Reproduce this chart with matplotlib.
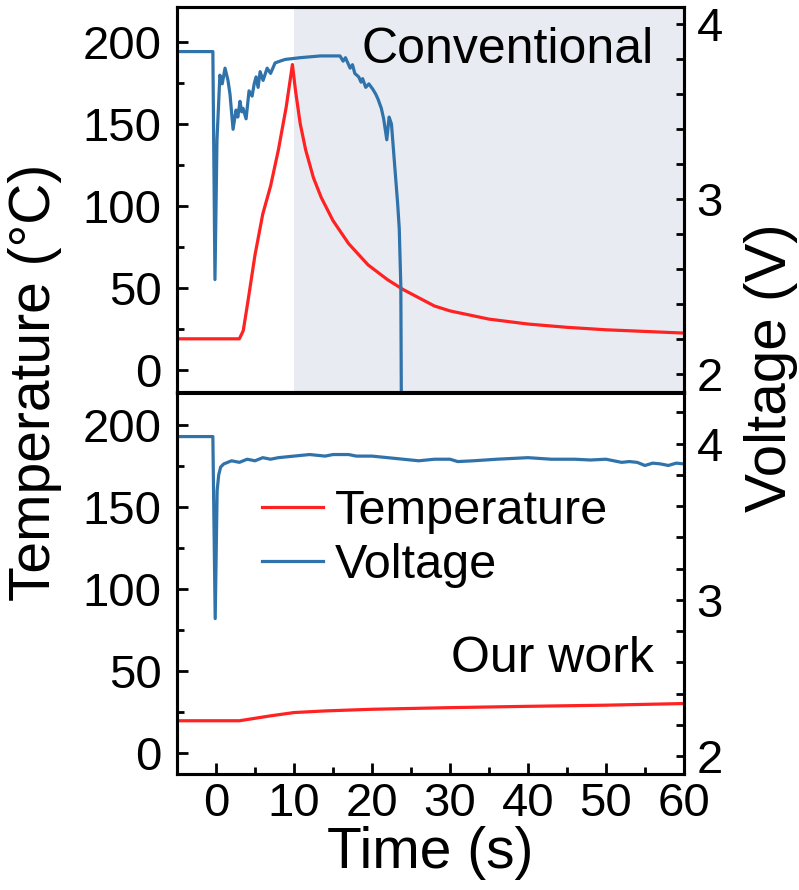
import matplotlib.pyplot as plt
from matplotlib.ticker import MultipleLocator

plt.rcParams['font.family'] = ['Liberation Sans', 'DejaVu Sans']

# ---- data ----
# top panel: conventional cell
conv_t_temp = [-5, 3.0, 3.5, 4.2, 5.0, 6.0, 7.0, 8.0, 9.0, 9.8, 10.2, 10.8, 11.5,
               12.5, 13.5, 15.0, 17.0, 19.5, 22.0, 24.0, 26.0, 28.0, 30.0, 35.0,
               40.0, 45.0, 50.0, 55.0, 60.0]
conv_temp = [19, 19, 24, 45, 70, 95, 112, 134, 160, 186, 170, 150, 134,
             117, 105, 91, 77, 64, 55, 49, 44, 39, 36, 31,
             28, 26, 24.5, 23.5, 22.5]

conv_t_volt = [-5, -0.4, -0.13, 0.13, 0.5, 0.8, 1.16, 1.54, 1.8, 2.19, 2.57,
               2.8, 3.08, 3.3, 3.47, 3.86, 4.24, 4.63, 4.9, 5.14, 5.4, 5.66,
               6.04, 6.56, 7.0, 7.58, 8.2, 8.87, 10.8, 13.4, 15.9, 16.3, 16.6,
               17.2, 17.5, 17.8, 18.3, 18.6, 18.8, 19.2, 19.6, 20.1, 20.5,
               20.8, 21.2, 21.5, 21.9, 22.2, 22.5, 22.9, 23.3, 23.5, 23.7, 23.8]
conv_volt = [3.845, 3.845, 2.54, 3.34, 3.71, 3.66, 3.75, 3.68, 3.60, 3.40,
             3.51, 3.47, 3.56, 3.50, 3.52, 3.46, 3.62, 3.59, 3.66, 3.70,
             3.64, 3.73, 3.68, 3.75, 3.72, 3.78, 3.79, 3.80, 3.81, 3.82,
             3.82, 3.79, 3.81, 3.75, 3.77, 3.72, 3.70, 3.67, 3.69, 3.64,
             3.66, 3.63, 3.60, 3.57, 3.52, 3.46, 3.34, 3.47, 3.43, 3.20,
             2.97, 2.83, 2.50, 1.50]

# bottom panel: our work
ours_t_temp = [-5, 3, 5, 7, 10, 14, 20, 30, 40, 50, 60]
ours_temp = [19.5, 19.5, 21, 22.5, 24.5, 25.5, 26.5, 27.5, 28.3, 29, 30]

ours_t_volt = [-5, -0.4, -0.1, 0.15, 0.35, 0.6, 1.0, 2, 3, 4, 5, 6, 7, 8, 10,
               12, 14, 15, 17, 18, 20, 22, 24, 26, 28, 30, 31, 33, 36, 38,
               40, 43, 46, 48, 50, 52, 53, 54, 55, 56, 57, 58, 59, 60]
ours_volt = [4.045, 4.045, 2.88, 3.70, 3.80, 3.85, 3.87, 3.89, 3.88, 3.90,
             3.89, 3.91, 3.90, 3.91, 3.92, 3.93, 3.92, 3.93, 3.93, 3.92,
             3.92, 3.91, 3.90, 3.89, 3.90, 3.90, 3.885, 3.89, 3.90, 3.905,
             3.91, 3.90, 3.90, 3.895, 3.90, 3.88, 3.885, 3.88, 3.86, 3.875,
             3.87, 3.86, 3.875, 3.87]

red = '#ff2222'
blue = '#3072aa'
fs_tick = 34
fs_text = 36
fs_label = 41

fig = plt.figure(figsize=(7.99, 8.90), dpi=100)
ax1 = fig.add_axes([0.2215, 0.5584, 0.6345, 0.4337])
ax2 = fig.add_axes([0.2215, 0.1303, 0.6345, 0.4292])
ax1r = ax1.twinx()
ax2r = ax2.twinx()

ax1.axvspan(10, 60, color='#e8ecf2', lw=0, zorder=0)
ax1.plot(conv_t_temp, conv_temp, color=red, lw=2.3)
ax1r.plot(conv_t_volt, conv_volt, color=blue, lw=2.3)
l_t, = ax2.plot(ours_t_temp, ours_temp, color=red, lw=2.3)
l_v, = ax2r.plot(ours_t_volt, ours_volt, color=blue, lw=2.3)

ax1.set_ylim(-14, 221)
ax1r.set_ylim(1.89, 4.10)
ax2.set_ylim(-13, 220)
ax2r.set_ylim(1.885, 4.33)

for ax in (ax1, ax2, ax1r, ax2r):
    ax.set_xlim(-5, 60)
    for s in ax.spines.values():
        s.set_linewidth(2.2)

for ax in (ax1, ax2):
    ax.yaxis.set_major_locator(MultipleLocator(50))
    ax.yaxis.set_minor_locator(MultipleLocator(25))
    ax.tick_params(axis='y', which='both', direction='in', labelsize=fs_tick,
                   width=2, pad=11, right=False)
    ax.tick_params(axis='y', which='major', length=8)
    ax.tick_params(axis='y', which='minor', length=5)

for ax in (ax1r, ax2r):
    ax.yaxis.set_major_locator(MultipleLocator(1))
    ax.yaxis.set_minor_locator(MultipleLocator(0.2))
    ax.tick_params(axis='y', which='both', direction='in', labelsize=fs_tick,
                   width=2, pad=9, length=6)

ax1.tick_params(axis='x', which='both', bottom=False, labelbottom=False)
ax1r.tick_params(axis='x', which='both', bottom=False, labelbottom=False)
ax2.xaxis.set_major_locator(MultipleLocator(10))
ax2.xaxis.set_minor_locator(MultipleLocator(5))
ax2.tick_params(axis='x', which='both', direction='in', labelsize=fs_tick,
                width=2, pad=6)
ax2.tick_params(axis='x', which='major', length=8)
ax2.tick_params(axis='x', which='minor', length=5)

ax1.text(0.94, 0.889, 'Conventional', transform=ax1.transAxes,
         ha='right', va='center', fontsize=fs_text)
ax2.text(0.94, 0.30, 'Our work', transform=ax2.transAxes,
         ha='right', va='center', fontsize=fs_text)

ax2r.legend([l_t, l_v], ['Temperature', 'Voltage'], loc='upper left',
            bbox_to_anchor=(0.168, 0.745), frameon=False, fontsize=35,
            handlelength=1.25, handletextpad=0.25, labelspacing=0.18,
            borderaxespad=0, borderpad=0)

ax2.set_xlabel('Time (s)', fontsize=fs_label, labelpad=0)
fig.text(0.044, 1 - 382 / 890, 'Temperature (°C)', rotation=90,
         ha='center', va='center', fontsize=fs_label)
fig.text(0.965, 1 - 368 / 890, 'Voltage (V)', rotation=90,
         ha='center', va='center', fontsize=42)

fig.savefig('out.png', dpi=100)
